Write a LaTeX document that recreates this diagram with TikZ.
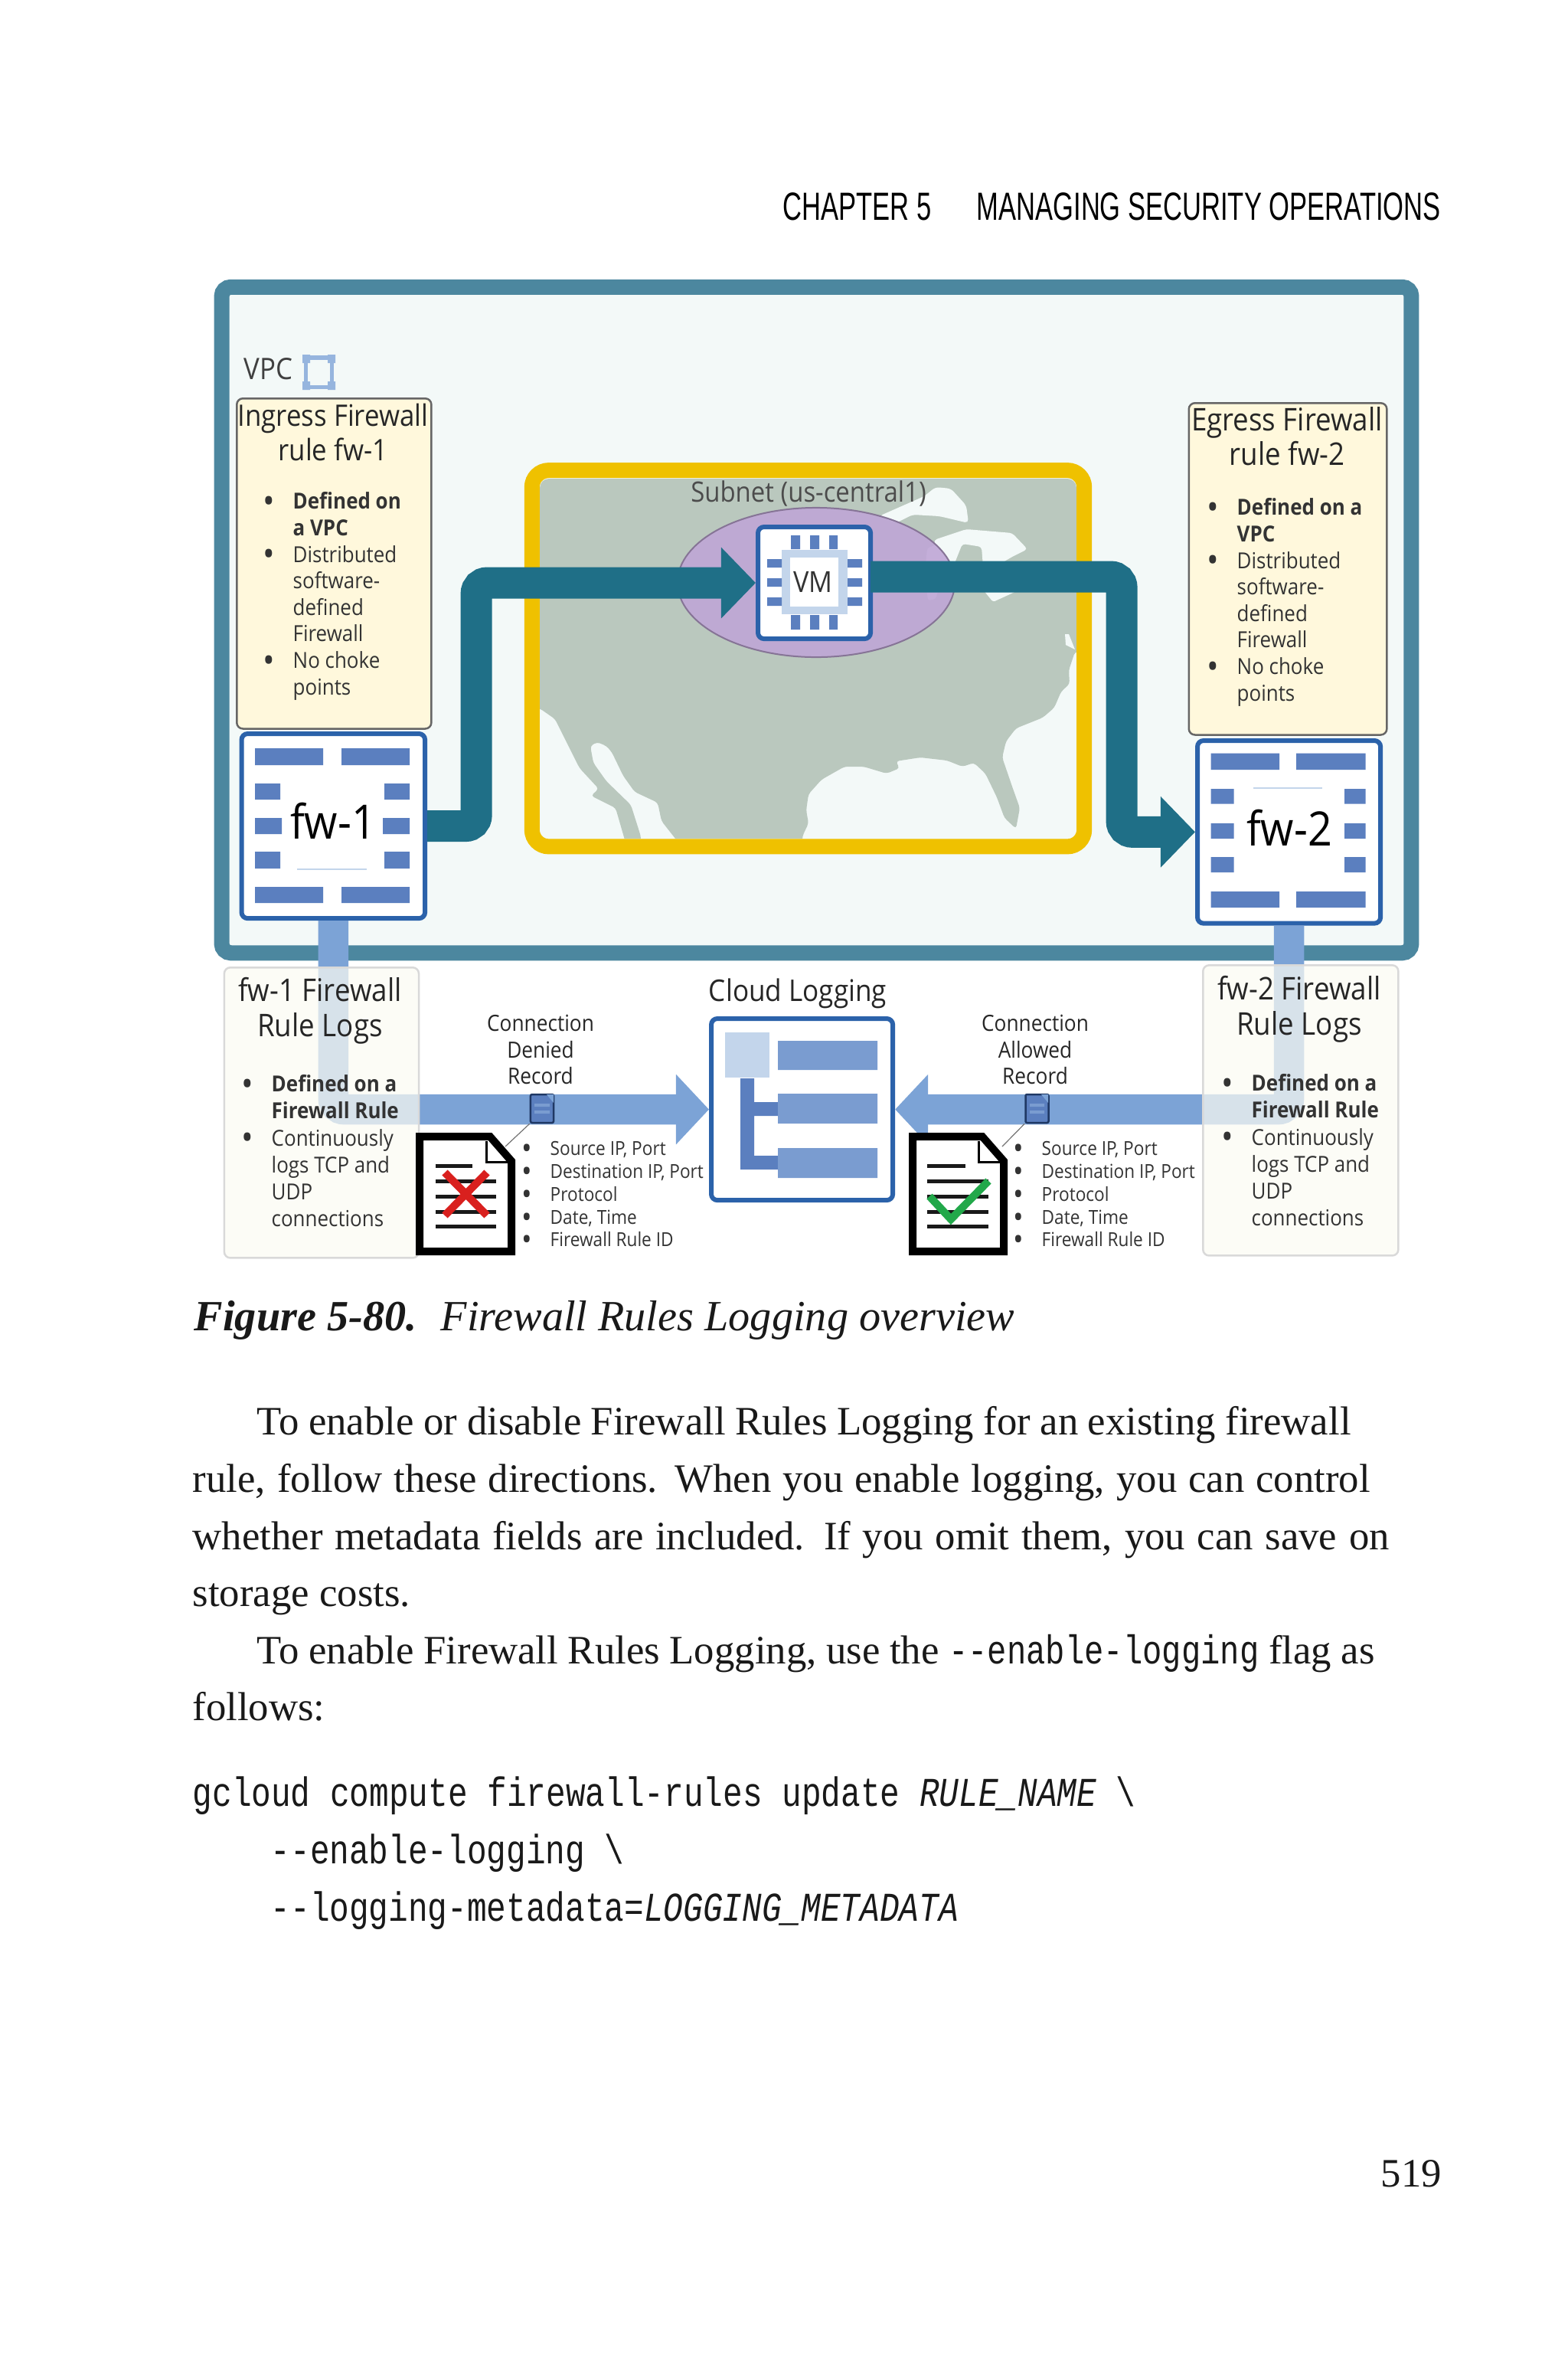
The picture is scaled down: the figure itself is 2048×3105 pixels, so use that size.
\documentclass[tikz,border=0pt]{standalone}
\usepackage{fontspec}
\setmainfont{Liberation Serif}
\newfontfamily\diagfont[FakeStretch=0.9]{Open Sans}
\newfontfamily\headfont[FakeStretch=0.673]{Liberation Sans}
\newfontfamily\codefont[FakeStretch=0.8]{Liberation Mono}
\usetikzlibrary{arrows.meta,positioning,shapes.geometric,calc}
\definecolor{VpcTeal}{HTML}{4C879F}
\definecolor{VpcPale}{HTML}{F3F9F8}
\definecolor{FlowTeal}{HTML}{1F6F87}
\definecolor{FlowBlue}{HTML}{7CA3D6}
\definecolor{BarBlue}{HTML}{5B7FBF}
\definecolor{BarSoft}{HTML}{7A9CD0}
\definecolor{BarPale}{HTML}{C3D5EB}
\definecolor{EdgeBlue}{HTML}{2B62AA}
\definecolor{IconInk}{HTML}{1F3864}
\definecolor{NoteCream}{HTML}{FFF8DC}
\definecolor{LogCream}{HTML}{FBFBF3}
\definecolor{SubnetGold}{HTML}{EFC100}
\definecolor{LandGrey}{HTML}{BAC8BE}
\definecolor{VmLilac}{HTML}{BFA6D6}
\definecolor{TextGrey}{HTML}{333333}
\definecolor{DenyRed}{HTML}{D9201E}
\definecolor{AllowGreen}{HTML}{22A84A}
\newcommand{\listdot}{\llap{\raisebox{-0.2em}[0pt][0pt]{\scalebox{1.6}{\textbullet}}\hspace{0.24cm}}}

\begin{document}
\begin{tikzpicture}[
    x=0.01cm,y=-0.01cm,
    vpcframe/.style={
      draw=VpcTeal,
      fill=VpcPale,
      line width=0.2cm,
      rounded corners=0.12cm,
      minimum width=15.53cm,
      minimum height=8.69cm
    },
    subnetframe/.style={
      draw=SubnetGold,
      line width=0.2cm,
      rounded corners=0.22cm,
      minimum width=7.21cm,
      minimum height=4.91cm
    },
    notebox/.style={
      draw=black!60,
      fill=NoteCream,
      line width=0.025cm,
      rounded corners=0.08cm,
      minimum width=2.54cm,
      anchor=north west
    },
    logbox/.style={
      draw=black!15,
      fill=LogCream,
      fill opacity=0.72,
      line width=0.025cm,
      rounded corners=0.08cm,
      minimum width=2.54cm,
      minimum height=3.79cm,
      anchor=north west
    },
    iconbox/.style={
      draw=EdgeBlue,
      fill=white,
      line width=0.06cm,
      rounded corners=0.08cm,
      anchor=north west
    },
    flowline/.style={
      -{Triangle[length=0.45cm,width=0.9cm]},
      draw=FlowTeal,
      line width=0.41cm,
      rounded corners=0.14cm
    },
    logflow/.style={
      -{Triangle[length=0.43cm,width=0.89cm]},
      draw=FlowBlue,
      line width=0.395cm,
      rounded corners=0.14cm
    },
    titletext/.style={
      font=\diagfont\fontsize{11.6}{12.8}\selectfont,
      text=black!85,
      align=center,
      inner sep=0pt
    },
    logtitle/.style={
      titletext,
      font=\diagfont\fontsize{11.6}{13.2}\selectfont
    },
    listtext/.style={
      font=\diagfont\fontsize{8.2}{9.85}\selectfont,
      text=TextGrey,
      align=left,
      inner sep=0pt,
      anchor=north west
    },
    recordtext/.style={
      font=\diagfont\fontsize{7.15}{8.45}\selectfont,
      text=TextGrey,
      align=left,
      inner sep=0pt,
      anchor=north west
    },
    bodyline/.style={
      font=\fontsize{15}{18}\selectfont,
      text=black!90,
      inner sep=0pt,
      anchor=base west
    },
    codeline/.style={
      font=\codefont\fontsize{15.2}{18}\selectfont,
      text=black!90,
      inner sep=0pt,
      anchor=base west
    },
    docpage/.style={
      draw=black,
      fill=white,
      line width=0.1cm,
      line join=miter
    },
    docrule/.style={draw=black!90,line width=0.05cm},
    foldline/.style={draw=black,line width=0.03cm},
    recordicon/.style={
      draw=IconInk,
      fill=BarBlue,
      line width=0.025cm,
      rounded corners=0.02cm,
      minimum width=0.3cm,
      minimum height=0.37cm,
      inner sep=0pt
    },
    leader/.style={draw=black!55,line width=0.012cm},
    pin/.style={fill=BarBlue}
  ]
    \useasboundingbox (0,0) rectangle (2048,3105);

    % Page head
    \node[font=\headfont\fontsize{14.6}{18}\selectfont,inner sep=0pt,anchor=base west] (chapter) at (1022,287) {CHAPTER 5};
    \node[font=\headfont\fontsize{14.6}{18}\selectfont,inner sep=0pt,anchor=base west] (section) at (1275,287) {MANAGING SECURITY OPERATIONS};

    % VPC
    \node[vpcframe] (vpc) at (1066.5,809.5) {};
    \node[font=\diagfont\fontsize{11}{13}\selectfont,text=black!75,inner sep=0pt,anchor=west] (vpclabel) at (318,482) {VPC};
    \node[draw=FlowBlue!80,line width=0.05cm,minimum width=0.34cm,minimum height=0.38cm,inner sep=0pt] (vpcicon) at (416.5,486) {};
    \fill[FlowBlue!80] (395,463) rectangle (405,474) (428,463) rectangle (438,474) (395,498) rectangle (405,509) (428,498) rectangle (438,509);

    % Map
    \begin{scope}
      \clip[rounded corners=0.12cm] (705,625) rectangle (1406,1095);
      \fill[VpcPale] (700,620) rectangle (1410,1100);
      \fill[LandGrey,rounded corners=0.04cm] (700,620) -- (1410,620) -- (1410,851) -- (1404,851) -- (1396,875) -- (1397,893) -- (1386,903) -- (1377,924) -- (1362,937) -- (1327,951) -- (1314,968) -- (1309,989) -- (1322,1027) -- (1332,1055) -- (1327,1082) -- (1312,1068) -- (1302,1041) -- (1287,1010) -- (1272,996) -- (1257,1001) -- (1237,993) -- (1202,989) -- (1170,994) -- (1175,1003) -- (1158,1010) -- (1128,1001) -- (1103,1001) -- (1073,1018) -- (1056,1037) -- (1053,1058) -- (1056,1075) -- (1048,1092) -- (1048,1100) -- (886,1100) -- (864,1072) -- (859,1048) -- (829,1034) -- (814,1013) -- (799,982) -- (792,974) -- (780,969) -- (771,974) -- (775,996) -- (792,1020) -- (824,1051) -- (837,1092) -- (837,1100) -- (817,1100) -- (804,1055) -- (772,1039) -- (782,1030) -- (757,1003) -- (745,979) -- (725,939) -- (705,925) -- (700,925) -- cycle;
      % Lakes
      \fill[VpcPale,rounded corners=0.05cm] (1148,674) -- (1182,659) -- (1207,648) -- (1222,636) -- (1242,638) -- (1262,660) -- (1265,683) -- (1227,674) -- (1192,672) -- (1170,683) -- cycle;
      \fill[VpcPale,rounded corners=0.04cm] (1220,705) -- (1262,691) -- (1322,696) -- (1342,717) -- (1322,727) -- (1300,740) -- (1284,740) -- (1282,714) -- (1257,710) -- (1245,740) -- (1225,740) -- cycle;
      \fill[VpcPale,rounded corners=0.03cm] (1211,716) -- (1225,710) -- (1232,750) -- (1222,782) -- (1212,784) -- (1208,750) -- cycle;
      \fill[VpcPale,rounded corners=0.03cm] (1284,770) -- (1332,770) -- (1297,786) -- cycle;
      \fill[VpcPale] (1391,828) -- (1396,828) -- (1404,848) -- (1392,842) -- cycle;
    \end{scope}
    \node[subnetframe] (subnet) at (1055.5,859.75) {};
    \node[draw=VmLilac!70!black,fill=VmLilac,fill opacity=0.9,line width=0.02cm,shape=ellipse,minimum width=3.62cm,minimum height=1.95cm,inner sep=0pt] (vmzone) at (1066,760.5) {};
    \node[font=\diagfont\fontsize{10.4}{13}\selectfont,text=black!70,inner sep=0pt] (subnetlabel) at (1056,644) {Subnet (us-central1)};

    % Notes on the rules
    \node[notebox,minimum height=4.31cm] (ingress) at (308,519) {};
    \node[titletext,font=\diagfont\fontsize{11}{12.8}\selectfont] (ingresstitle) at (435,564) {Ingress Firewall\\rule fw-1};
    \node[listtext] (ingresslist) at (382,642) {\listdot{\bfseries Defined on}\\{\bfseries a VPC}\\\listdot Distributed\\software-\\defined\\Firewall\\\listdot No choke\\points};
    \node[notebox,minimum width=2.585cm,minimum height=4.33cm] (egress) at (1551.5,525) {};
    \node[titletext] (egresstitle) at (1681,570) {Egress Firewall\\rule fw-2};
    \node[listtext] (egresslist) at (1615,650) {\listdot{\bfseries Defined on a}\\{\bfseries VPC}\\\listdot Distributed\\software-\\defined\\Firewall\\\listdot No choke\\points};

    % Flows to Cloud Logging
    \node[iconbox,minimum width=2.395cm,minimum height=2.41cm] (fw1) at (312.5,955) {};
    \node[iconbox,minimum width=2.39cm,minimum height=2.385cm] (fw2) at (1561,964) {};
    \node[iconbox,minimum width=2.37cm,minimum height=2.37cm] (cloud) at (926,1327) {};
    \draw[logflow] (fw1.south) |- (cloud.west);
    \draw[logflow] (fw2.south) |- (cloud.east);

    % fw-1
    \fill[pin] (333,977) rectangle (422,999) (446,977) rectangle (535,999);
    \fill[pin] (333,1023) rectangle (366,1044) (333,1068) rectangle (368,1089) (333,1112) rectangle (366,1134);
    \fill[pin] (502,1023) rectangle (535,1044) (500,1068) rectangle (535,1089) (502,1112) rectangle (535,1134);
    \fill[pin] (333,1158) rectangle (422,1179) (446,1158) rectangle (535,1179);
    \draw[BarPale,line width=0.012cm] (388,1135) -- (479,1135);
    \node[font=\diagfont\fontsize{17.6}{20}\selectfont,inner sep=0pt] (fw1label) at (435,1072) {fw-1};

    % fw-2
    \fill[pin] (1581.5,983.5) rectangle (1671,1005) (1693,983.5) rectangle (1783.5,1005);
    \fill[pin] (1581.5,1030) rectangle (1611.5,1049.5) (1581.5,1075) rectangle (1611.5,1095) (1581.5,1119) rectangle (1611.5,1139);
    \fill[pin] (1756,1030) rectangle (1783.5,1049.5) (1756,1075) rectangle (1783.5,1095) (1756,1119) rectangle (1783.5,1139);
    \fill[pin] (1581.5,1164) rectangle (1671,1185) (1693,1164) rectangle (1783.5,1185);
    \draw[BarPale,line width=0.012cm] (1637,1029) -- (1727,1029);
    \node[font=\diagfont\fontsize{17.6}{20}\selectfont,inner sep=0pt] (fw2label) at (1684,1081) {fw-2};

    % VM
    \node[iconbox,minimum width=1.47cm,minimum height=1.46cm] (vm) at (987,685) {};
    \fill[BarPale] (1021,718) rectangle (1107,802);
    \fill[white] (1032,728) rectangle (1095,792);
    \fill[pin] (1033,699) rectangle (1045,717) (1058,699) rectangle (1070,717) (1083,699) rectangle (1094,717);
    \fill[pin] (1033,803) rectangle (1045,822) (1058,803) rectangle (1070,822) (1083,803) rectangle (1094,822);
    \fill[pin] (1002,730) rectangle (1021,741) (1002,755) rectangle (1021,766) (1002,780) rectangle (1021,791);
    \fill[pin] (1107,730) rectangle (1126,741) (1107,755) rectangle (1126,766) (1107,780) rectangle (1126,791);
    \node[font=\diagfont\fontsize{10.8}{13}\selectfont,text=black!80,inner sep=0pt] (vmlabel) at (1062,760) {VM};

    % Traffic through the VM
    \draw[flowline] (fw1.east) -- ++(64,0) |- (vm.west);
    \draw[flowline] ($(vm.east)+(-3,-8)$) -- ++(328,0) |- (fw2.west);

    % Logs
    \node[logbox] (fw1logs) at (291.6,1262) {};
    \node[logtitle] (fw1logstitle) at (418,1320) {fw-1 Firewall\\Rule Logs};
    \node[listtext,font=\diagfont\fontsize{8.2}{10}\selectfont] (fw1logslist) at (354,1403) {\listdot{\bfseries Defined on a}\\{\bfseries Firewall Rule}\\\listdot Continuously\\logs TCP and\\UDP\\connections};
    \node[logbox,minimum width=2.55cm] (fw2logs) at (1570,1259) {};
    \node[logtitle] (fw2logstitle) at (1697,1318) {fw-2 Firewall\\Rule Logs};
    \node[listtext,font=\diagfont\fontsize{8.2}{10}\selectfont] (fw2logslist) at (1634,1402) {\listdot{\bfseries Defined on a}\\{\bfseries Firewall Rule}\\\listdot Continuously\\logs TCP and\\UDP\\connections};

    % Cloud Logging
    \node[titletext,font=\diagfont\fontsize{11.1}{13}\selectfont] (cloudlabel) at (1042,1297) {Cloud Logging};
    \fill[BarPale] (947,1348) rectangle (1005,1407);
    \fill[pin] (967,1408) rectangle (985,1527) (985,1439) rectangle (1016,1457) (985,1509) rectangle (1016,1527);
    \fill[BarSoft] (1016,1359) rectangle (1146,1397) (1016,1428) rectangle (1146,1467) (1016,1499) rectangle (1146,1538);

    % Denied record
    \node[titletext,font=\diagfont\fontsize{8.3}{9.7}\selectfont] (deniedlabel) at (706,1370.5) {Connection\\Denied\\Record};
    \node[recordicon] (deniedicon) at (708,1447.5) {};
    \fill[FlowBlue] (714,1429) -- (723,1429) -- (723,1440) -- cycle;
    \fill[BarSoft] (698,1441) rectangle (718,1445) (698,1450) rectangle (718,1454);
    \coordinate (denieddoc) at (660,1497);
    \draw[leader] (deniedicon.south west) -- (denieddoc);
    \draw[docpage] (548,1484) -- (640,1484) -- (668,1516) -- (668,1634) -- (548,1634) -- cycle;
    \draw[foldline] (635,1490) -- (635,1517) -- (668,1517);
    \draw[docrule] (569,1522) -- (617,1522) (569,1542) -- (648,1542) (569,1562) -- (648,1562) (569,1582) -- (648,1582) (569,1601) -- (648,1601);
    \draw[DenyRed,line width=0.1cm] (581,1531) -- (636,1587) (636,1531) -- (581,1587);
    \node[recordtext] (deniedlist) at (718,1490) {\listdot Source IP, Port\\\listdot Destination IP, Port\\\listdot Protocol\\\listdot Date, Time\\\listdot Firewall Rule ID};

    % Allowed record
    \node[titletext,font=\diagfont\fontsize{8.3}{9.7}\selectfont] (allowedlabel) at (1352,1370.5) {Connection\\Allowed\\Record};
    \node[recordicon] (allowedicon) at (1354.5,1447.5) {};
    \fill[FlowBlue] (1360,1429) -- (1369,1429) -- (1369,1440) -- cycle;
    \fill[BarSoft] (1345,1441) rectangle (1364,1445) (1345,1450) rectangle (1364,1454);
    \coordinate (alloweddoc) at (1309,1497);
    \draw[leader] (allowedicon.south west) -- (alloweddoc);
    \draw[docpage] (1192,1484) -- (1283,1484) -- (1311,1516) -- (1311,1634) -- (1192,1634) -- cycle;
    \draw[foldline] (1278,1490) -- (1278,1517) -- (1311,1517);
    \draw[docrule] (1211,1522) -- (1261,1522) (1211,1542) -- (1291,1542) (1211,1562) -- (1291,1562) (1211,1582) -- (1291,1582) (1211,1601) -- (1291,1601);
    \draw[AllowGreen,line width=0.1cm] (1214,1562) -- (1242,1592) -- (1291,1542);
    \node[recordtext] (allowedlist) at (1360,1490) {\listdot Source IP, Port\\\listdot Destination IP, Port\\\listdot Protocol\\\listdot Date, Time\\\listdot Firewall Rule ID};

    % Caption
    \node[bodyline,font=\fontsize{16}{18}\selectfont\bfseries\itshape] (figno) at (253,1737) {Figure 5-80.};
    \node[bodyline,font=\fontsize{16}{18}\selectfont\itshape] (figname) at (575,1737) {Firewall Rules Logging overview};

    % Text below
    \node[bodyline] (para1) at (335,1873) {\makebox[14.28cm][s]{To enable or disable Firewall Rules Logging for an existing firewall}};
    \node[bodyline] (para2) at (251,1948) {\makebox[15.37cm][s]{rule, follow these directions. When you enable logging, you can control}};
    \node[bodyline] (para3) at (251,2023) {\makebox[15.62cm][s]{whether metadata fields are included. If you omit them, you can save on}};
    \node[bodyline] (para4) at (251,2097) {storage costs.};
    \node[bodyline] (para5) at (335,2172) {\makebox[14.59cm][s]{To enable Firewall Rules Logging, use the {\codefont --enable-logging} flag as}};
    \node[bodyline] (para6) at (251,2246) {follows:};
    \node[codeline] (code1) at (251,2358) {gcloud compute firewall-rules update {\itshape RULE\_NAME} \textbackslash};
    \node[codeline] (code2) at (353,2433) {--enable-logging \textbackslash};
    \node[codeline] (code3) at (353,2508) {--logging-metadata={\itshape LOGGING\_METADATA}};
    \node[bodyline] (pageno) at (1803,2855) {519};
\end{tikzpicture}
\end{document}
